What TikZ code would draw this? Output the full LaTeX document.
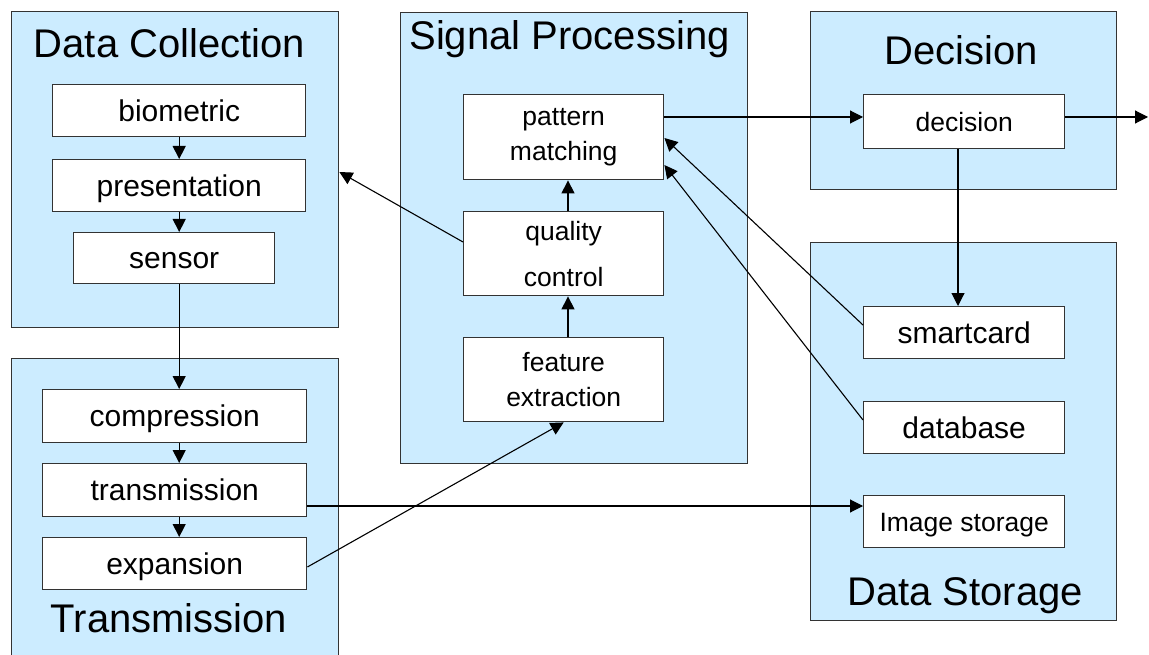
\documentclass[tikz,border=0pt]{standalone}
\usepackage{fontspec}
\setmainfont{Liberation Sans}
\usetikzlibrary{arrows.meta,calc}

\definecolor{panelblue}{HTML}{CCECFF}
\definecolor{edgegray}{HTML}{333333}

\tikzset{
  panel/.style={draw=edgegray, line width=1.4pt, fill=panelblue,
    anchor=north west, inner sep=0pt},
  stage/.style={draw=edgegray, line width=1.4pt, fill=white,
    anchor=north west, inner sep=0pt, align=center},
  bigtext/.style={font=\fontsize{30}{36}\selectfont, text height=21.5pt, text depth=0pt},
  smalltext/.style={font=\fontsize{26.5}{35}\selectfont},
  heading/.style={font=\fontsize{40}{44}\selectfont, anchor=base, inner sep=0pt},
  flow/.style={draw=black, line width=1.1pt, -{Triangle[length=13pt,width=13pt]}},
}

\begin{document}
\begin{tikzpicture}[x=1pt, y=-1pt]
\useasboundingbox[fill=white] (0,0) rectangle (1149,655);

% group panels
\node[panel, minimum width=327pt, minimum height=316pt] (dc) at (11,11) {};
\node[panel, minimum width=327pt, minimum height=300pt] (tr) at (11,358) {};
\node[panel, minimum width=347pt, minimum height=451pt] (sp) at (400,12) {};
\node[panel, minimum width=306pt, minimum height=178pt] (de) at (810,11) {};
\node[panel, minimum width=306pt, minimum height=378pt] (ds) at (810,242) {};

% panel headings
\node[heading] (dctitle) at (169.5,58) {Data Collection};
\node[heading] (trtitle) at (169,632) {Transmission};
\node[heading] (sptitle) at (569.5,50) {Signal Processing};
\node[heading] (detitle) at (961,65) {Decision};
\node[heading] (dstitle) at (965,605) {Data Storage};

% data collection stages
\node[stage, bigtext, minimum width=253pt, minimum height=52pt] (bio) at (52,84) {biometric};
\node[stage, bigtext, minimum width=253pt, minimum height=52pt] (pres) at (52,159) {presentation};
\node[stage, bigtext, minimum width=201pt, minimum height=51pt] (sensor) at (73,232) {sensor};

% transmission stages
\node[stage, bigtext, minimum width=264pt, minimum height=53pt] (comp) at (42,389) {compression};
\node[stage, bigtext, minimum width=264pt, minimum height=53pt] (trans) at (42,463) {transmission};
\node[stage, bigtext, minimum width=264pt, minimum height=52pt] (exp) at (42,537) {expansion};

% signal processing stages
\node[stage, smalltext, minimum width=200pt, minimum height=85pt] (pm) at (463,94) {pattern\\matching};
\node[stage, font=\fontsize{26.5}{46}\selectfont, minimum width=200pt, minimum height=84pt] (qc) at (463,211) {quality\\control};
\node[stage, smalltext, minimum width=200pt, minimum height=84pt] (fe) at (463,337) {feature\\extraction};

% decision stage
\node[stage, smalltext, text height=19pt, text depth=0pt, minimum width=201pt, minimum height=54pt] (dec) at (863,94) {decision};

% storage stages
\node[stage, bigtext, minimum width=201pt, minimum height=52pt] (card) at (863,306) {smartcard};
\node[stage, bigtext, minimum width=201pt, minimum height=52pt] (db) at (863,401) {database};
\node[stage, smalltext, text height=19pt, text depth=0pt, minimum width=201pt, minimum height=52pt] (img) at (863,495) {Image storage};

\coordinate (out) at (1148,117);

% data collection chain
\draw[flow] (bio.south) -- (pres.north);
\draw[flow] (pres.south) -- (pres.south |- sensor.north);
\draw[flow] (sensor.south -| bio.south) -- (comp.north -| bio.south);

% transmission chain
\draw[flow] (comp.south -| bio.south) -- (trans.north -| bio.south);
\draw[flow] (trans.south -| bio.south) -- (exp.north -| bio.south);
\draw[flow] (trans.east |- 0,506) -- (img.west |- 0,506);
\draw[flow] (exp.east |- 0,567) -- (fe.south);

% signal processing chain
\draw[flow] (568,0 |- fe.north) -- (568,0 |- qc.south);
\draw[flow] (568,0 |- qc.north) -- (568,0 |- pm.south);
\draw[flow] (qc.west |- 0,242) -- (dc.east |- 0,172);
\draw[flow] (pm.east |- 0,117) -- (dec.west |- 0,117);

% decision outputs
\draw[flow] (dec.east |- 0,117) -- (out);
\draw[flow] (958,0 |- dec.south) -- (958,0 |- card.north);

% stored templates back to matching
\draw[flow] (card.west |- 0,325) -- (pm.east |- 0,138);
\draw[flow] (db.west |- 0,420) -- (pm.east |- 0,165);
\end{tikzpicture}
\end{document}
